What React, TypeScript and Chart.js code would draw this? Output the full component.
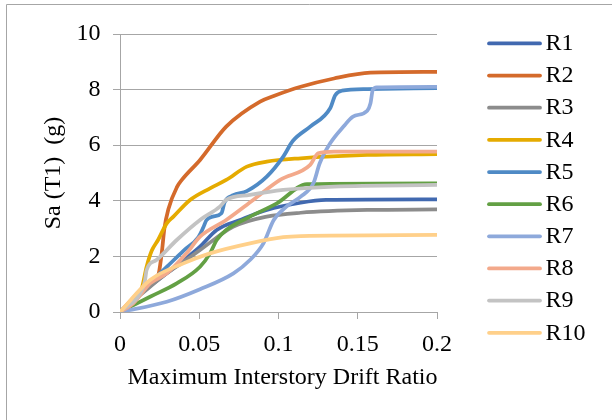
import React, { useEffect, useRef } from "react";
import { Chart, registerables } from "chart.js";

Chart.register(...registerables);

const seriesNames = ["R1", "R2", "R3", "R4", "R5", "R6", "R7", "R8", "R9", "R10"];
const seriesColors = ["#4169B0", "#D46A2B", "#8C8C8C", "#E5AB00", "#4F8AC5", "#63A044", "#8EA9DB", "#F3A98B", "#C3C3C3", "#FFD08A"];

const r1X = [0, 0.015, 0.0295, 0.04, 0.0505, 0.061, 0.0758, 0.0926, 0.114, 0.13, 0.2];
const r1Y = [0, 0.75, 1.39, 1.85, 2.35, 2.95, 3.31, 3.67, 3.93, 4.03, 4.05];
const r2X = [0, 0.0147, 0.021, 0.0245, 0.0265, 0.028, 0.0305, 0.036, 0.039, 0.0505, 0.067, 0.0884, 0.097, 0.114, 0.135, 0.158, 0.2];
const r2Y = [0, 0.85, 1.05, 1.4, 2.2, 3.0, 3.7, 4.5, 4.75, 5.47, 6.67, 7.57, 7.77, 8.1, 8.4, 8.61, 8.64];
const r3X = [0, 0.015, 0.0295, 0.04, 0.0505, 0.0716, 0.0926, 0.114, 0.156, 0.2];
const r3Y = [0, 0.72, 1.39, 1.8, 2.23, 3.07, 3.43, 3.57, 3.67, 3.69];
const r4X = [0, 0.0137, 0.0168, 0.02, 0.024, 0.0295, 0.0337, 0.0442, 0.0568, 0.067, 0.08, 0.0926, 0.114, 0.156, 0.2];
const r4Y = [0, 0.85, 1.63, 2.2, 2.59, 3.19, 3.43, 4.03, 4.45, 4.75, 5.23, 5.41, 5.53, 5.65, 5.68];
const r5X = [0, 0.01, 0.02, 0.03, 0.04, 0.0495, 0.0526, 0.0545, 0.0585, 0.064, 0.066, 0.0714, 0.08, 0.0926, 0.103, 0.109, 0.12, 0.1326, 0.1358, 0.14, 0.156, 0.2];
const r5Y = [0, 0.55, 1.1, 1.65, 2.2, 2.7, 3.05, 3.3, 3.43, 3.55, 3.95, 4.2, 4.35, 4.87, 5.59, 6.15, 6.67, 7.33, 7.8, 7.96, 8.02, 8.05];
const r6X = [0, 0.019, 0.0358, 0.0505, 0.0568, 0.061, 0.067, 0.082, 0.099, 0.118, 0.2];
const r6Y = [0, 0.55, 1.03, 1.63, 2.11, 2.59, 2.95, 3.43, 3.91, 4.6, 4.63];
const r7X = [0, 0.0295, 0.0505, 0.0716, 0.082, 0.0905, 0.097, 0.105, 0.114, 0.122, 0.126, 0.1326, 0.141, 0.147, 0.156, 0.158, 0.1595, 0.162, 0.2];
const r7Y = [0, 0.37, 0.82, 1.39, 1.87, 2.47, 3.31, 3.79, 4.15, 4.63, 5.35, 6.07, 6.67, 7.03, 7.24, 7.5, 7.99, 8.08, 8.1];
const r8X = [0, 0.0084, 0.019, 0.0295, 0.042, 0.0505, 0.067, 0.084, 0.101, 0.12, 0.125, 0.135, 0.2];
const r8Y = [0, 0.31, 1.03, 1.39, 2.11, 2.71, 3.31, 4.03, 4.75, 5.29, 5.71, 5.77, 5.77];
const r9X = [0, 0.0147, 0.0158, 0.0168, 0.023, 0.0358, 0.0505, 0.063, 0.067, 0.082, 0.103, 0.135, 0.2];
const r9Y = [0, 0.91, 1.15, 1.51, 1.87, 2.59, 3.31, 3.79, 4.03, 4.21, 4.39, 4.51, 4.57];
const r10X = [0, 0.019, 0.04, 0.0568, 0.082, 0.103, 0.114, 0.2];
const r10Y = [0, 1.15, 1.75, 2.11, 2.47, 2.69, 2.73, 2.77];

const seriesX = [r1X, r2X, r3X, r4X, r5X, r6X, r7X, r8X, r9X, r10X];
const seriesY = [r1Y, r2Y, r3Y, r4Y, r5Y, r6Y, r7Y, r8Y, r9Y, r10Y];

const xTicks = [0, 0.05, 0.1, 0.15, 0.2];
const yTicks = [0, 2, 4, 6, 8, 10];

const xTitle = "Maximum Interstory Drift Ratio";
const yTitle = "Sa (T1)  (g)";

const FONT = "'Liberation Serif', 'Times New Roman', serif";
const AXIS_COLOR = "#A6A6A6";

const frameAndLegend = {
  id: "frameAndLegend",
  afterDraw(chart: any) {
    const ctx = chart.ctx;
    ctx.save();
    ctx.strokeStyle = "#A6A6A6";
    ctx.lineWidth = 1;
    ctx.beginPath();
    ctx.moveTo(6.5, 420);
    ctx.lineTo(6.5, 4.5);
    ctx.lineTo(612, 4.5);
    ctx.stroke();
    ctx.font = "24px " + FONT;
    ctx.fillStyle = "#000";
    ctx.textBaseline = "alphabetic";
    ctx.textAlign = "center";
    ctx.fillText(xTitle, 282.5, 384);
    ctx.textBaseline = "middle";
    ctx.textAlign = "left";
    seriesNames.forEach((name, i) => {
      const y = 43.4 + 32.15 * i;
      ctx.strokeStyle = seriesColors[i];
      ctx.lineWidth = 3.75;
      ctx.lineCap = "round";
      ctx.beginPath();
      ctx.moveTo(489, y);
      ctx.lineTo(540, y);
      ctx.stroke();
      ctx.fillStyle = "#000";
      ctx.fillText(name, 545.5, y + 0.5);
    });
    ctx.restore();
  },
};

export default function App() {
  const ref = useRef<HTMLCanvasElement>(null);
  useEffect(() => {
    document.body.style.margin = "0";
    const datasets = seriesNames.map((name, i) => ({
      label: name,
      data: seriesX[i].map((x, j) => ({ x, y: seriesY[i][j] })),
      borderColor: seriesColors[i],
      backgroundColor: seriesColors[i],
      borderWidth: 3.75,
      pointRadius: 0,
      cubicInterpolationMode: "monotone" as const,
      order: 10 - i,
      borderCapStyle: "round" as const,
      borderJoinStyle: "round" as const,
    }));
    const chart = new Chart(ref.current!, {
      type: "line",
      data: { datasets },
      plugins: [frameAndLegend],
      options: {
        animation: false,
        responsive: false,
        maintainAspectRatio: false,
        layout: { padding: { left: 0, right: 175, top: 34, bottom: 0 } },
        plugins: { legend: { display: false }, tooltip: { enabled: false } },
        scales: {
          x: {
            type: "linear",
            min: 0,
            max: 0.2,
            afterBuildTicks: (s: any) => { s.ticks = xTicks.map((v) => ({ value: v })); },
            afterFit: (s: any) => { s.height = 108; },
            ticks: { font: { family: FONT, size: 24 }, color: "#000", padding: 11, maxRotation: 0, callback: (v: any) => String(v) },
            grid: { drawOnChartArea: false, drawTicks: true, tickLength: 7, color: AXIS_COLOR },
            border: { color: AXIS_COLOR },
            title: { display: false },
          },
          y: {
            type: "linear",
            min: 0,
            max: 10,
            afterBuildTicks: (s: any) => { s.ticks = yTicks.map((v) => ({ value: v })); },
            afterFit: (s: any) => { s.width = 120; },
            ticks: { font: { family: FONT, size: 24 }, color: "#000", padding: 12.5 },
            grid: { drawTicks: true, tickLength: 7, color: AXIS_COLOR },
            border: { color: AXIS_COLOR },
            title: { display: true, text: yTitle, font: { family: FONT, size: 24 }, color: "#000", padding: { top: 39, bottom: 0 } },
          },
        },
      },
    });
    return () => chart.destroy();
  }, []);
  return (
    <div style={{ position: "relative", width: 612, height: 420, background: "#fff" }}>
      <canvas ref={ref} width={612} height={420} style={{ width: 612, height: 420, display: "block" }} />
    </div>
  );
}
